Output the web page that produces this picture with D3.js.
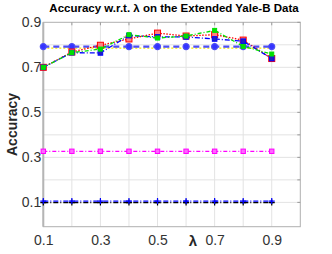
<!DOCTYPE html>
<html><head><meta charset="utf-8">
<script src="https://cdn.jsdelivr.net/npm/d3@7/dist/d3.min.js"></script>
<style>body{margin:0;background:#fff;}svg{display:block;font-family:"Liberation Sans",Arial,sans-serif;}</style>
</head><body><svg id="c" width="332" height="254"></svg>
<script>
const lambdas = [0.1,0.2,0.3,0.4,0.5,0.6,0.7,0.8,0.9];
const redVals   = [0.700,0.768,0.798,0.826,0.852,0.839,0.845,0.821,0.739];
const greenVals = [0.700,0.765,0.781,0.845,0.830,0.839,0.864,0.793,0.759];
const blueVals  = [0.700,0.765,0.764,0.841,0.835,0.835,0.826,0.816,0.739];
const circVals  = [0.792,0.792,0.792,0.792,0.792,0.792,0.792,0.792,0.792];
const yellowVals= [0.785,0.785,0.785,0.785,0.785,0.785,0.785,0.785,0.785];
const magVals   = [0.327,0.327,0.327,0.327,0.327,0.327,0.327,0.327,0.327];
const bluePlusVals = [0.106,0.106,0.106,0.106,0.106,0.106,0.106,0.106,0.106];
const blackVals = [0.099,0.099,0.099,0.099,0.099,0.099,0.099,0.099,0.099];
const xTicks = [0.1,0.3,0.5,0.7,0.9];
const yTicks = [0.1,0.3,0.5,0.7,0.9];
const gridX = [0.2,0.3,0.4,0.5,0.6,0.7,0.8,0.9];
const gridY = [0.1,0.2,0.3,0.4,0.5,0.6,0.7,0.8];

const svg = d3.select("#c");
const L=43.3,R=300.3,T=22.3,B=226.7;
const x = d3.scaleLinear().domain([0.1,1.0]).range([L,R]);
const y = d3.scaleLinear().domain([-0.008,0.9]).range([B,T]);

svg.append("g").selectAll("line").data(gridX).join("line")
  .attr("x1",d=>x(d)).attr("x2",d=>x(d)).attr("y1",T).attr("y2",B)
  .attr("stroke","#e3e3e3").attr("stroke-width",1);
svg.append("g").selectAll("line").data(gridY).join("line")
  .attr("y1",d=>y(d)).attr("y2",d=>y(d)).attr("x1",L).attr("x2",R)
  .attr("stroke","#e3e3e3").attr("stroke-width",1);

svg.append("rect").attr("x",L).attr("y",T).attr("width",R-L).attr("height",B-T)
  .attr("fill","none").attr("stroke","#b0b0b0").attr("stroke-width",1);
svg.append("line").attr("x1",L).attr("x2",L).attr("y1",T).attr("y2",B).attr("stroke","#b5b5b5").attr("stroke-width",2);

const ax = svg.append("g").attr("transform",`translate(0,${B})`)
  .call(d3.axisBottom(x).tickValues(xTicks).tickSize(0).tickPadding(8).tickFormat(d3.format(".1f")));
ax.select(".domain").remove();
ax.selectAll("text").attr("font-size",14).attr("fill","#333");
const ay = svg.append("g").attr("transform",`translate(${L},0)`)
  .call(d3.axisLeft(y).tickValues(yTicks).tickSize(0).tickPadding(2).tickFormat(d3.format(".1f")));
ay.select(".domain").remove();
ay.selectAll("text").attr("font-size",14).attr("fill","#333");
svg.append("g").selectAll("line").data(gridY.concat([0.9])).join("line")
  .attr("x1",R-3).attr("x2",R).attr("y1",d=>y(d)).attr("y2",d=>y(d)).attr("stroke","#9a9a9a");
svg.append("g").selectAll("line").data(gridX).join("line")
  .attr("y1",T).attr("y2",T+3).attr("x1",d=>x(d)).attr("x2",d=>x(d)).attr("stroke","#9a9a9a");

const line = d3.line().x((d,i)=>x(lambdas[i])).y(d=>y(d));
function series(vals,color,dash,w,marker,mfill,ms){
  const g=svg.append("g");
  g.append("path").datum(vals).attr("d",line).attr("fill","none")
    .attr("stroke",color).attr("stroke-width",w).attr("stroke-dasharray",dash);
  const pts=g.selectAll("g").data(vals).join("g")
    .attr("transform",(d,i)=>`translate(${x(lambdas[i])},${y(d)})`);
  if(marker==="sq") pts.append("rect").attr("x",-ms).attr("y",-ms).attr("width",2*ms).attr("height",2*ms)
     .attr("fill",mfill).attr("stroke",color).attr("stroke-width",1);
  if(marker==="circ") pts.append("circle").attr("r",ms).attr("fill",mfill).attr("stroke",color).attr("stroke-width",1.2);
  if(marker==="plus") pts.append("path").attr("d",`M${-ms},0H${ms}M0,${-ms}V${ms}`).attr("stroke",color).attr("stroke-width",1.2);
}
series(yellowVals,"#f2e600","2,2",1.2,null);
series(circVals,"#4d4df5","6,4",2.2,"circ","#3333ff",3);
series(magVals,"#ff00ff","4,2,1,2",1.2,"sq","#ff66ff",2.2);
series(blackVals,"#000000","5,2,1,2",1.2,"plus",null,3);
series(bluePlusVals,"#0000ff","5,2,1,2",1.2,"plus",null,3);
series(redVals,"#ff0000","1.5,1.5",1.3,"sq","#ff8080",3);
series(blueVals,"#0000ff","5,2,1,2",1.3,"sq","#2020c0",2.3);
series(greenVals,"#00e000","4,2,1,2",1.3,"sq","#00e000",2);

svg.append("text").attr("x",174).attr("y",12).attr("text-anchor","middle")
  .attr("font-size",11.5).attr("font-weight","bold").attr("fill","#000")
  .text("Accuracy w.r.t. λ on the Extended Yale-B Data");
svg.append("text").attr("transform",`translate(17,${(T+B)/2}) rotate(-90)`).attr("text-anchor","middle")
  .attr("font-size",14).attr("font-weight","bold").attr("fill","#262626").text("Accuracy");
svg.append("text").attr("x",193).attr("y",246).attr("text-anchor","middle")
  .attr("font-size",15).attr("font-weight","bold").attr("fill","#262626").text("λ");
</script></body></html>
